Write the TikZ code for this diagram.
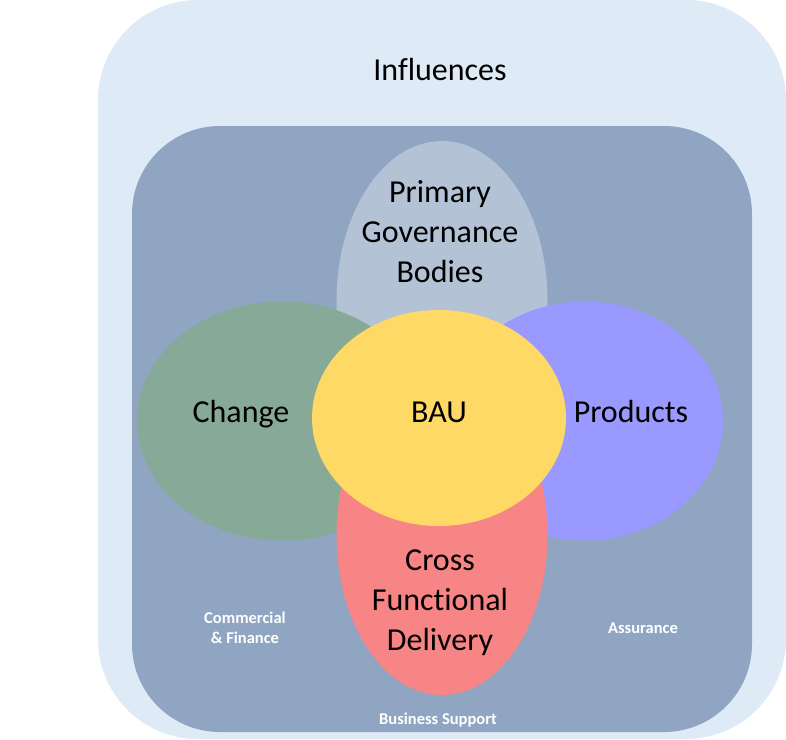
\documentclass[tikz,border=0pt]{standalone}
\usepackage{fontspec}
\setmainfont{Carlito}[Ligatures=NoCommon]
\usetikzlibrary{shapes.geometric,positioning}
\definecolor{influencebg}{HTML}{DEEAF6}
\definecolor{corebg}{HTML}{8FA5C2}
\definecolor{govgray}{HTML}{B4C2D6}
\definecolor{changegreen}{HTML}{87A997}
\definecolor{productblue}{HTML}{9999FF}
\definecolor{deliverypink}{HTML}{F78585}
\definecolor{bauyellow}{HTML}{FFD966}

\begin{document}
\begin{tikzpicture}[
  x=1pt,y=-1pt,
  blob/.style={ellipse,inner sep=0pt,draw=none},
  big/.style={font=\fontsize{32}{40}\selectfont,align=center,text=black,anchor=base},
  small/.style={font=\fontsize{16.5}{20}\selectfont\bfseries,align=center,text=white,anchor=base},
]
\useasboundingbox (0,0) rectangle (786,739);
% outer and inner panels
\fill[influencebg,rounded corners=100pt] (98,0) rectangle (786,739);
\fill[corebg,rounded corners=88pt] (132,126) rectangle (752,732);
\node[big] (influences) at (440,80) {Influences};

% petals, back to front
\node[blob,fill=govgray,minimum width=211pt,minimum height=320pt] (gov) at (442,301) {};
\node[blob,fill=changegreen,minimum width=290pt,minimum height=239pt] (change) at (282,421) {};
\node[blob,fill=productblue,minimum width=276pt,minimum height=239pt] (products) at (585,421) {};
\node[blob,fill=deliverypink,minimum width=211pt,minimum height=320pt] (delivery) at (442,535) {};
\node[blob,fill=bauyellow,minimum width=254pt,minimum height=216pt] (bau) at (439,418) {};

% labels (base = last line)
\node[big] (govtxt) at (440,282) {Primary\\Governance\\Bodies};
\node[big] (changetxt) at (241,422) {Change};
\node[big] (bautxt) at (439,422) {BAU};
\node[big] (productstxt) at (631,422) {Products};
\node[big] (deliverytxt) at (440,650) {Cross\\Functional\\Delivery};
\node[small] (commercial) at (245,643) {Commercial\\\& Finance};
\node[small] (assurance) at (643,633) {Assurance};
\node[small] (support) at (438,724) {Business Support};
\end{tikzpicture}
\end{document}
